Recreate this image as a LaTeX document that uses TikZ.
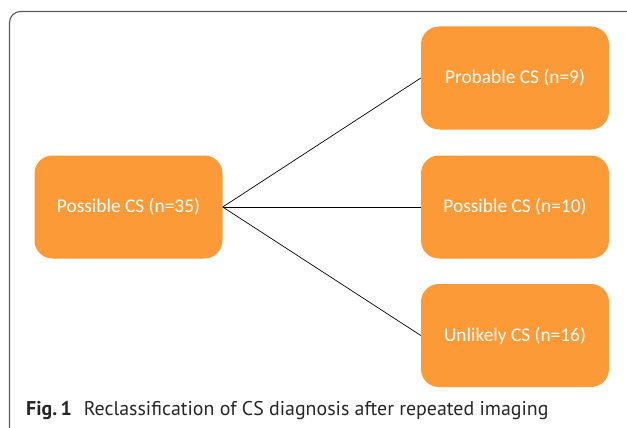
\documentclass[tikz,border=0pt]{standalone}
\usepackage{fontspec}
\setmainfont{Carlito}
\newfontfamily\capfont{PT Sans}
\definecolor{boxorange}{RGB}{253,154,56}
\definecolor{framegray}{RGB}{90,90,90}
\begin{document}
\begin{tikzpicture}[x=1pt,y=-1pt,
  cbox/.style={fill=boxorange, draw=none, rounded corners=18pt, minimum width=188pt, minimum height=103pt, inner sep=0pt, text=white, font=\fontsize{19.4}{23}\selectfont},
  link/.style={draw=black, line width=0.7pt}]
\useasboundingbox (0,0) rectangle (627,428);
\draw[framegray, line width=1.1pt, rounded corners=11pt] (9.5,429.5) -- (9.5,11.5) -- (640,11.5);
\node[cbox] (src) at (128.5,207) {\raisebox{-2pt}{Possible CS (n=35)}};
\node[cbox] (prob) at (515,78) {\raisebox{-2pt}{Probable CS (n=9)}};
\node[cbox] (poss) at (515,207) {\raisebox{-2pt}{Possible CS (n=10)}};
\node[cbox] (unl) at (515,335.5) {\raisebox{-2pt}{Unlikely CS (n=16)}};
\draw[link] (src.east) -- (prob.west);
\draw[link] (src.east) -- (poss.west);
\draw[link] (src.east) -- (unl.west);
\node[anchor=base west, inner sep=0pt, text=black!85, font=\capfont\fontsize{19.9}{22}\selectfont] (cap) at (26,415) {\textbf{Fig.\,1}\hspace{0.6em}Reclassification of CS diagnosis after repeated imaging};
\end{tikzpicture}
\end{document}
